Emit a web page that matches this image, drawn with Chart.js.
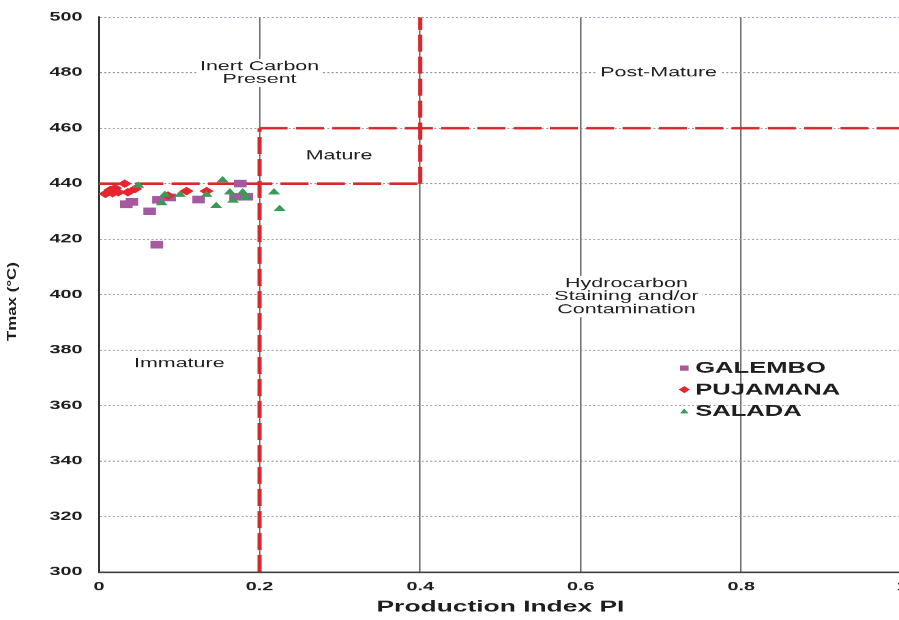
<!DOCTYPE html>
<html>
<head>
<meta charset="utf-8">
<title>Tmax vs Production Index</title>
<script src="https://cdn.jsdelivr.net/npm/chart.js@4.4.0/dist/chart.umd.min.js"></script>
<style>
  html, body { margin: 0; padding: 0; background: #fff; overflow: hidden; }
  /* the original figure is stretched sideways, so the canvas is drawn narrow and widened here */
  #chart { display: block; width: 910px !important; height: 620px !important; }
</style>
</head>
<body>
<canvas id="chart" width="552" height="620"></canvas>
<script>
const STRETCH = 1.65;

// GALEMBO samples
const galemboPI   = [0.034, 0.041, 0.063, 0.072, 0.074, 0.088, 0.124, 0.170, 0.176, 0.184];
const galemboTmax = [432.6, 433.4, 430.0, 418.0, 434.2, 435.0, 434.3, 435.3, 440.0, 435.3];

// PUJAMANA samples
const pujamanaPI   = [0.008, 0.014, 0.017, 0.020, 0.024, 0.032, 0.036, 0.045, 0.086, 0.109, 0.134];
const pujamanaTmax = [436.3, 437.7, 436.6, 438.4, 436.9, 440.0, 436.9, 438.1, 435.7, 437.3, 437.3];

// SALADA samples
const saladaPI   = [0.049, 0.078, 0.082, 0.101, 0.134, 0.146, 0.154, 0.163, 0.167, 0.179, 0.183, 0.218, 0.225];
const saladaTmax = [439.3, 433.0, 436.0, 436.0, 436.0, 432.0, 441.3, 436.9, 433.9, 436.9, 435.3, 436.9, 430.9];

// maturity zone boundaries [PI, Tmax]
const zoneLines = [
  [[0.2, 300], [0.2, 460]],
  [[0, 440], [0.4, 440]],
  [[0.4, 440], [0.4, 500]],
  [[0.2, 460], [1, 460]]
];
const zoneNames = ['Inert Carbon\nPresent', 'Post-Mature', 'Mature', 'Hydrocarbon\nStaining and/or\nContamination', 'Immature'];

const xTicks = [0, 0.2, 0.4, 0.6, 0.8, 1];
const yTicks = [300, 320, 340, 360, 380, 400, 420, 440, 460, 480, 500];

const FONT = '"Liberation Sans", Arial, Helvetica, sans-serif';
Chart.defaults.font.family = FONT;
Chart.defaults.color = '#1e1e1e';

function toPoints(xs, ys) {
  return xs.map((v, i) => ({x: v, y: ys[i]}));
}

// where the zone names sit, in chart values
const zoneAnchors = [[0.2, 479.9], [0.697, 479.9], [0.299, 450], [0.657, 399.3], [0.1, 375.2]];

const zoneLabelPlugin = {
  id: 'zoneLabels',
  beforeDatasetsDraw(chart) {
    const {ctx, scales: {x, y}} = chart;
    ctx.save();
    ctx.font = '13px ' + FONT;
    ctx.textAlign = 'center';
    ctx.textBaseline = 'middle';
    zoneNames.forEach((name, i) => {
      const lines = name.split('\n');
      const cx = x.getPixelForValue(zoneAnchors[i][0]);
      const cy = y.getPixelForValue(zoneAnchors[i][1]);
      const lh = 13;
      const w = Math.max(...lines.map(l => ctx.measureText(l).width));
      const h = lines.length * lh;
      ctx.fillStyle = '#fff';
      ctx.fillRect(cx - w / 2 - 2, cy - h / 2 - 1, w + 4, h + 2);
      ctx.fillStyle = '#1e1e1e';
      lines.forEach((l, j) => ctx.fillText(l, cx, cy - h / 2 + lh * (j + 0.5)));
    });
    ctx.restore();
  }
};

function drawKeyMarker(ctx, style, cx, cy, color) {
  ctx.fillStyle = color;
  ctx.beginPath();
  if (style === 'rect') {
    ctx.rect(cx - 2.6, cy - 2.6, 5.2, 5.2);
  } else if (style === 'rectRot') {
    ctx.moveTo(cx - 3.4, cy);
    ctx.lineTo(cx, cy - 3.5);
    ctx.lineTo(cx + 3.4, cy);
    ctx.lineTo(cx, cy + 3.5);
  } else {
    ctx.moveTo(cx - 2.6, cy + 2.4);
    ctx.lineTo(cx, cy - 2.7);
    ctx.lineTo(cx + 2.6, cy + 2.4);
  }
  ctx.closePath();
  ctx.fill();
}

const keyPlugin = {
  id: 'seriesKey',
  afterDraw(chart) {
    const {ctx, scales: {x, y}} = chart;
    const left = x.getPixelForValue(0.729);
    let top = y.getPixelForValue(373.5);
    ctx.save();
    ctx.font = 'bold 15.5px ' + FONT;
    ctx.textBaseline = 'middle';
    ctx.textAlign = 'left';
    chart.data.datasets.forEach(ds => {
      if (ds.showLine) return;
      drawKeyMarker(ctx, ds.pointStyle, left, top, ds.backgroundColor);
      ctx.fillStyle = '#1e1e1e';
      ctx.fillText(ds.label, left + 6.6, top + 0.5);
      top += 21.5;
    });

    // y axis title, narrow upright letters like the scan
    ctx.font = 'bold 13.5px ' + FONT;
    ctx.textAlign = 'center';
    ctx.translate(7.4, (chart.chartArea.top + chart.chartArea.bottom) / 2 + 7);
    ctx.rotate(-Math.PI / 2);
    ctx.scale(1.25, 1 / STRETCH);
    ctx.fillText('Tmax (°C)', 0, 0);
    ctx.restore();
  }
};

const datasets = [
  {label: 'GALEMBO', data: toPoints(galemboPI, galemboTmax), pointStyle: 'rect', pointRadius: 5.4,
   backgroundColor: '#a5599f', borderColor: '#a5599f', borderWidth: 0, order: 3},
  {label: 'PUJAMANA', data: toPoints(pujamanaPI, pujamanaTmax), pointStyle: 'rectRot', pointRadius: 4.3,
   backgroundColor: '#e5262d', borderColor: '#e5262d', borderWidth: 0, order: 2},
  {label: 'SALADA', data: toPoints(saladaPI, saladaTmax), pointStyle: 'triangle', pointRadius: 4.2,
   backgroundColor: '#3b9a56', borderColor: '#3b9a56', borderWidth: 0, order: 1}
];
zoneLines.forEach((seg, i) => {
  datasets.push({
    label: 'zone' + i,
    data: seg.map(p => ({x: p[0], y: p[1]})),
    showLine: true,
    pointRadius: 0,
    borderColor: '#d8282c',
    borderWidth: 2.5,
    borderDash: [17, 5],
    order: 4
  });
});

new Chart(document.getElementById('chart'), {
  type: 'scatter',
  data: {datasets: datasets},
  options: {
    responsive: false,
    animation: false,
    devicePixelRatio: STRETCH,
    layout: {padding: {top: 16, right: 3.5, left: 0, bottom: 0}},
    plugins: {legend: {display: false}, tooltip: {enabled: false}},
    scales: {
      x: {
        type: 'linear', min: 0, max: 1,
        afterBuildTicks: scale => { scale.ticks = xTicks.map(v => ({value: v})); },
        ticks: {
          padding: 8, autoSkip: false, maxRotation: 0,
          font: {size: 12, weight: 'bold'},
          callback: v => String(Math.round(v * 10) / 10)
        },
        grid: {color: '#444', lineWidth: 0.7, drawTicks: false},
        border: {display: true, color: '#333', width: 1.5},
        title: {display: true, text: 'Production Index PI', font: {size: 16, weight: 'bold'}, padding: {top: 0, bottom: 3}},
        afterFit(scale) {
          scale.height = 48;
          // let the last tick label run off the edge like the cropped original
          scale.paddingLeft = 0;
          scale.paddingRight = 0;
        }
      },
      y: {
        type: 'linear', min: 300, max: 500,
        afterBuildTicks: scale => { scale.ticks = yTicks.map(v => ({value: v})); },
        ticks: {padding: 10, font: {size: 12, weight: 'bold'}},
        grid: {color: '#8e8ea4', lineWidth: 1, drawTicks: false},
        border: {display: true, color: '#333', width: 1.2, dash: [1.2, 1.4]},
        afterFit(scale) { scale.width = 60; }
      }
    }
  },
  plugins: [zoneLabelPlugin, keyPlugin]
});
</script>
</body>
</html>
